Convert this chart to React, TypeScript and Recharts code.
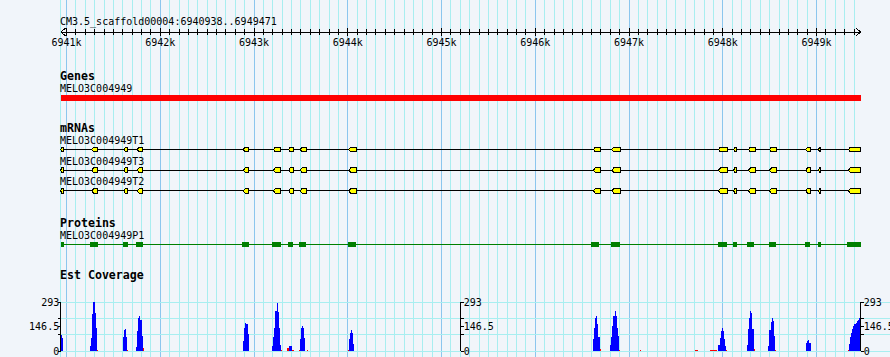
import React from 'react';
import { ComposedChart, XAxis, YAxis, Area, ReferenceLine, ReferenceArea } from 'recharts';

// region shown in the browser view
const regionStart = 6940938;
const regionEnd = 6949471;
const regionLabel = 'CM3.5_scaffold00004:6940938..6949471';

const majorTicks = [6941000, 6942000, 6943000, 6944000, 6945000, 6946000, 6947000, 6948000, 6949000];
const minorStep = 100;

const geneName = 'MELO3C004949';
const geneSpan: [number, number] = [6940938, 6949471];

const transcriptNames = ['MELO3C004949T1', 'MELO3C004949T3', 'MELO3C004949T2'];
const mrnaExons: [number, number][] = [
  [6940938, 6940970], [6941269, 6941329], [6941613, 6941653], [6941755, 6941813],
  [6942886, 6942944], [6943206, 6943285], [6943370, 6943419], [6943491, 6943555],
  [6944010, 6944088], [6946619, 6946691], [6946816, 6946904], [6947953, 6948053],
  [6948117, 6948149], [6948273, 6948344], [6948497, 6948568], [6948885, 6948938],
  [6949023, 6949045], [6949339, 6949471],
];

const proteinName = 'MELO3C004949P1';
const cdsBlocks: [number, number][] = [
  [6940938, 6940970], [6941251, 6941333], [6941599, 6941656], [6941741, 6941813],
  [6942869, 6942947], [6943195, 6943288], [6943363, 6943413], [6943480, 6943552],
  [6943999, 6944088], [6946595, 6946680], [6946808, 6946904], [6947949, 6948045],
  [6948112, 6948155], [6948261, 6948336], [6948496, 6948571], [6948880, 6948933],
  [6949019, 6949051], [6949328, 6949471],
];

// EST coverage, 12bp bins: [first bin start, bin values]
const covMax = 293;
const covTicks = [0, 97.67, 146.5, 195.33, 293];
const covLabels = [0, 146.5, 293];
const covGridLines = [0, 97.67, 195.33, 293];
const covBin = 12;
const estPeaks: [number, number[]][] = [
  [6940938, [95, 75]],
  [6941251, [30, 80, 220, 293, 230, 135]],
  [6941599, [85, 125, 130, 85]],
  [6941741, [25, 120, 195, 210, 185, 90]],
  [6942883, [60, 135, 170, 162, 100]],
  [6943192, [30, 85, 140, 240, 287, 235, 140, 35]],
  [6943368, [30, 30, 30]],
  [6943488, [70, 140, 150, 140, 75]],
  [6944010, [70, 105, 128, 110, 40]],
  [6946613, [70, 140, 195, 212, 160, 85]],
  [6946797, [38, 85, 150, 212, 242, 208, 140, 88]],
  [6947953, [38, 75, 118, 138, 120, 70, 30]],
  [6948256, [38, 130, 195, 240, 228, 130]],
  [6948486, [32, 128, 172, 198, 178, 88]],
  [6948888, [48, 62, 68, 50]],
  [6949344, [40, 85, 110, 130, 148, 160, 170, 178, 185, 195]],
];
const otherPeaks: [number, number[]][] = [
  [6941323, [8]],
  [6941647, [8]],
  [6941813, [18]],
  [6943288, [5]],
  [6943356, [18]],
  [6943404, [6, 6]],
  [6943476, [6]],
  [6943560, [8]],
  [6943998, [5]],
  [6946685, [10]],
  [6946893, [5]],
  [6947117, [5]],
  [6947703, [5, 5, 5]],
  [6947864, [5, 5, 5, 5, 5, 5]],
  [6948037, [5]],
  [6948328, [12]],
  [6948558, [5]],
  [6949332, [5]],
];

const W = 890;
const H = 357;
const BG = '#F1F5FA';
const GRID_MINOR = '#A8EEF0';
const GRID_MAJOR = '#8CC6EE';
const FONT = "'DejaVu Sans Mono', monospace";
const plotLeft = 60.7;
const plotRight = 29.3;
const xDomain: [number, number] = [regionStart, regionEnd];
const domainRows = [{ pos: regionStart }, { pos: regionEnd }];

const minorTicks: number[] = [];
for (let p = majorTicks[0]; p < regionEnd; p += minorStep) minorTicks.push(p);
const gridPositions = [regionStart, ...minorTicks];
const rulerTicks = [regionStart, ...minorTicks, regionEnd];

const introns = mrnaExons.slice(1).map((e, i) => [mrnaExons[i][1], e[0]]);

const valueAt = (peaks: [number, number[]][], p: number) => {
  for (const [s, vals] of peaks) {
    if (p >= s && p < s + vals.length * covBin) return vals[Math.floor((p - s) / covBin)];
  }
  return 0;
};
const breaks = new Set<number>([regionStart, regionEnd]);
[...estPeaks, ...otherPeaks].forEach(([s, vals]) => {
  for (let i = 0; i <= vals.length; i++) breaks.add(s + i * covBin);
});
const covData = [...breaks]
  .filter(p => p >= regionStart && p <= regionEnd)
  .sort((a, b) => a - b)
  .map(p => ({ pos: p, est: valueAt(estPeaks, p), other: valueAt(otherPeaks, p) }));

// middle coverage axis sits at the centre of the region
const plotWidth = W - plotLeft - plotRight;
const midX = plotLeft + plotWidth / 2;

const RulerTick = ({ x, y, payload }: any) => {
  const v = payload.value;
  const cx = Number(x);
  const cy = Number(y);
  if (v === regionStart) {
    return <path d={`M${cx + 5} ${cy - 4}L${cx} ${cy}L${cx + 5} ${cy + 4}`} stroke="#000" fill="none" />;
  }
  if (v === regionEnd) {
    return <path d={`M${cx - 5} ${cy - 4}L${cx} ${cy}L${cx - 5} ${cy + 4}`} stroke="#000" fill="none" />;
  }
  const major = majorTicks.includes(v);
  const s = major ? 4 : 3;
  return (
    <g>
      <path d={`M${cx} ${cy - s}V${cy + s}`} stroke="#000" fill="none" />
      {major && (
        <text x={cx} y={cy + 14.3} textAnchor="middle" fontFamily={FONT} fontSize={10} fill="#000">
          {`${v / 1000}k`}
        </text>
      )}
    </g>
  );
};

const CovTick = ({ x, y, payload, textAnchor }: any) => {
  if (!covLabels.includes(payload.value)) return <g />;
  const dx = textAnchor === 'end' ? 1.5 : 0;
  return (
    <text x={Number(x) + dx} y={Number(y) + 3.6} textAnchor={textAnchor} fontFamily={FONT} fontSize={10} fill="#000">
      {String(payload.value)}
    </text>
  );
};

const ExonShape = (props: any) => {
  const { x, y, width, height } = props;
  const t = Math.min(2, width / 3);
  const mid = y + height / 2;
  const d = `M${x} ${mid}L${x + t} ${y}L${x + width} ${y}L${x + width} ${y + height}L${x + t} ${y + height}Z`;
  return <path d={d} fill="#FFFF00" stroke="#000" strokeWidth={1} />;
};

const Layer: React.FC<{ children: React.ReactNode }> = ({ children }) => (
  <div style={{ position: 'absolute', left: 0, top: 0 }}>{children}</div>
);

const xAxisHidden = <XAxis dataKey="pos" type="number" domain={xDomain} hide allowDataOverflow />;

const App: React.FC = () => {
  const trackMargin = { left: plotLeft, right: plotRight };
  return (
    <div className="gb" style={{ position: 'absolute', left: 0, top: 0, width: W, height: H, background: BG, overflow: 'hidden' }}>
      <style>{`.gb svg line, .gb svg rect, .gb svg path { shape-rendering: crispEdges; }`}</style>

      {/* vertical grid */}
      <Layer>
        <ComposedChart width={W} height={H} data={domainRows} margin={{ top: 0, bottom: 0, ...trackMargin }}>
          {xAxisHidden}
          <YAxis type="number" domain={[0, 1]} hide allowDataOverflow />
          {gridPositions.map(p => (
            <ReferenceLine key={p} x={p} stroke={majorTicks.includes(p) ? GRID_MAJOR : GRID_MINOR} strokeWidth={1} />
          ))}
        </ComposedChart>
      </Layer>

      {/* horizontal grid of the coverage track */}
      <Layer>
        <ComposedChart width={W} height={H} data={domainRows} margin={{ top: 302, bottom: 6, left: plotLeft, right: 0 }}>
          {xAxisHidden}
          <YAxis type="number" domain={[0, covMax]} hide allowDataOverflow />
          {covGridLines.map(t => (
            <ReferenceLine key={t} y={t} stroke={GRID_MINOR} strokeWidth={1} />
          ))}
        </ComposedChart>
      </Layer>

      {/* ruler */}
      <Layer>
        <ComposedChart width={W} height={60} data={domainRows} margin={{ top: 0, bottom: 0, ...trackMargin }}>
          <XAxis
            dataKey="pos"
            type="number"
            domain={xDomain}
            ticks={rulerTicks}
            interval={0}
            height={28}
            tickSize={0}
            tickMargin={0}
            tickLine={false}
            axisLine={{ stroke: '#000' }}
            tick={(p: any) => <RulerTick {...p} />}
            allowDataOverflow
          />
          <YAxis type="number" domain={[0, 1]} hide allowDataOverflow />
        </ComposedChart>
      </Layer>

      {/* genes */}
      <Layer>
        <ComposedChart width={W} height={H} data={domainRows} margin={{ top: 94.7, bottom: H - 100.7, ...trackMargin }}>
          {xAxisHidden}
          <YAxis type="number" domain={[0, 1]} hide allowDataOverflow />
          <ReferenceArea x1={geneSpan[0]} x2={geneSpan[1]} y1={0} y2={1} fill="#FF0000" fillOpacity={1} stroke="none" />
        </ComposedChart>
      </Layer>

      {/* mRNAs */}
      <Layer>
        <ComposedChart width={W} height={H} data={domainRows} margin={{ top: 139.15, bottom: H - 139.15 - 62.1, ...trackMargin }}>
          {xAxisHidden}
          <YAxis type="number" domain={[0, transcriptNames.length]} reversed hide allowDataOverflow />
          {transcriptNames.map((name, r) =>
            introns.map(([a, b]) => (
              <ReferenceLine
                key={`${name}-i-${a}`}
                segment={[{ x: a, y: r + 0.5 }, { x: b, y: r + 0.5 }]}
                stroke="#000"
                strokeWidth={1}
              />
            ))
          )}
          {transcriptNames.map((name, r) =>
            mrnaExons.map(([a, b]) => (
              <ReferenceArea
                key={`${name}-e-${a}`}
                x1={a}
                x2={b}
                y1={r + 0.5 - 0.11}
                y2={r + 0.5 + 0.11}
                fillOpacity={1}
                shape={(p: any) => <ExonShape {...p} />}
              />
            ))
          )}
        </ComposedChart>
      </Layer>

      {/* proteins */}
      <Layer>
        <ComposedChart width={W} height={H} data={domainRows} margin={{ top: 242.3, bottom: H - 247.3, ...trackMargin }}>
          {xAxisHidden}
          <YAxis type="number" domain={[0, 1]} hide allowDataOverflow />
          <ReferenceLine y={0.5} stroke="#008000" strokeWidth={1} />
          {cdsBlocks.map(([a, b]) => (
            <ReferenceArea key={a} x1={a} x2={b} y1={0} y2={1} fill="#008000" fillOpacity={1} stroke="none" />
          ))}
        </ComposedChart>
      </Layer>

      {/* EST coverage */}
      <Layer>
        <ComposedChart width={W} height={H} data={covData} margin={{ top: 302, bottom: 6, left: plotLeft - 40, right: 0 }}>
          {xAxisHidden}
          <YAxis
            yAxisId="l"
            type="number"
            domain={[0, covMax]}
            allowDataOverflow
            ticks={covTicks}
            interval={0}
            width={40}
            tickSize={3}
            tickMargin={0}
            axisLine={{ stroke: '#000' }}
            tickLine={{ stroke: '#000' }}
            tick={(p: any) => <CovTick {...p} />}
          />
          <YAxis
            yAxisId="r"
            orientation="right"
            type="number"
            domain={[0, covMax]}
            allowDataOverflow
            ticks={covTicks}
            interval={0}
            width={plotRight}
            tickSize={3}
            tickMargin={0}
            axisLine={{ stroke: '#000' }}
            tickLine={{ stroke: '#000' }}
            tick={(p: any) => <CovTick {...p} />}
          />
          <Area yAxisId="l" type="stepAfter" dataKey="other" fill="#FF0000" fillOpacity={1} stroke="none" dot={false} activeDot={false} isAnimationActive={false} />
          <Area yAxisId="l" type="stepAfter" dataKey="est" fill="#0000FF" fillOpacity={1} stroke="none" dot={false} activeDot={false} isAnimationActive={false} />
        </ComposedChart>
      </Layer>

      {/* middle coverage axis */}
      <Layer>
        <ComposedChart width={W} height={H} data={domainRows} margin={{ top: 302, bottom: 6, left: plotLeft, right: W - midX - 40 }}>
          {xAxisHidden}
          <YAxis
            orientation="right"
            type="number"
            domain={[0, covMax]}
            allowDataOverflow
            ticks={covTicks}
            interval={0}
            width={40}
            tickSize={3}
            tickMargin={0}
            axisLine={{ stroke: '#000' }}
            tickLine={{ stroke: '#000' }}
            tick={(p: any) => <CovTick {...p} />}
          />
        </ComposedChart>
      </Layer>

      {/* track labels */}
      <svg width={W} height={H} style={{ position: 'absolute', left: 0, top: 0 }} fontFamily={FONT} fill="#000">
        <text x={60} y={24.5} fontSize={10}>{regionLabel}</text>
        <text x={60} y={80} fontSize={11.6} fontWeight="bold">Genes</text>
        <text x={60} y={91.7} fontSize={10}>{geneName}</text>
        <text x={60} y={132} fontSize={11.6} fontWeight="bold">mRNAs</text>
        {transcriptNames.map((n, i) => (
          <text key={n} x={60} y={144.3 + i * 20.2} fontSize={10}>{n}</text>
        ))}
        <text x={60} y={227} fontSize={11.6} fontWeight="bold">Proteins</text>
        <text x={60} y={239.3} fontSize={10}>{proteinName}</text>
        <text x={60} y={279.3} fontSize={11.6} fontWeight="bold">Est Coverage</text>
      </svg>
    </div>
  );
};

export default App;
